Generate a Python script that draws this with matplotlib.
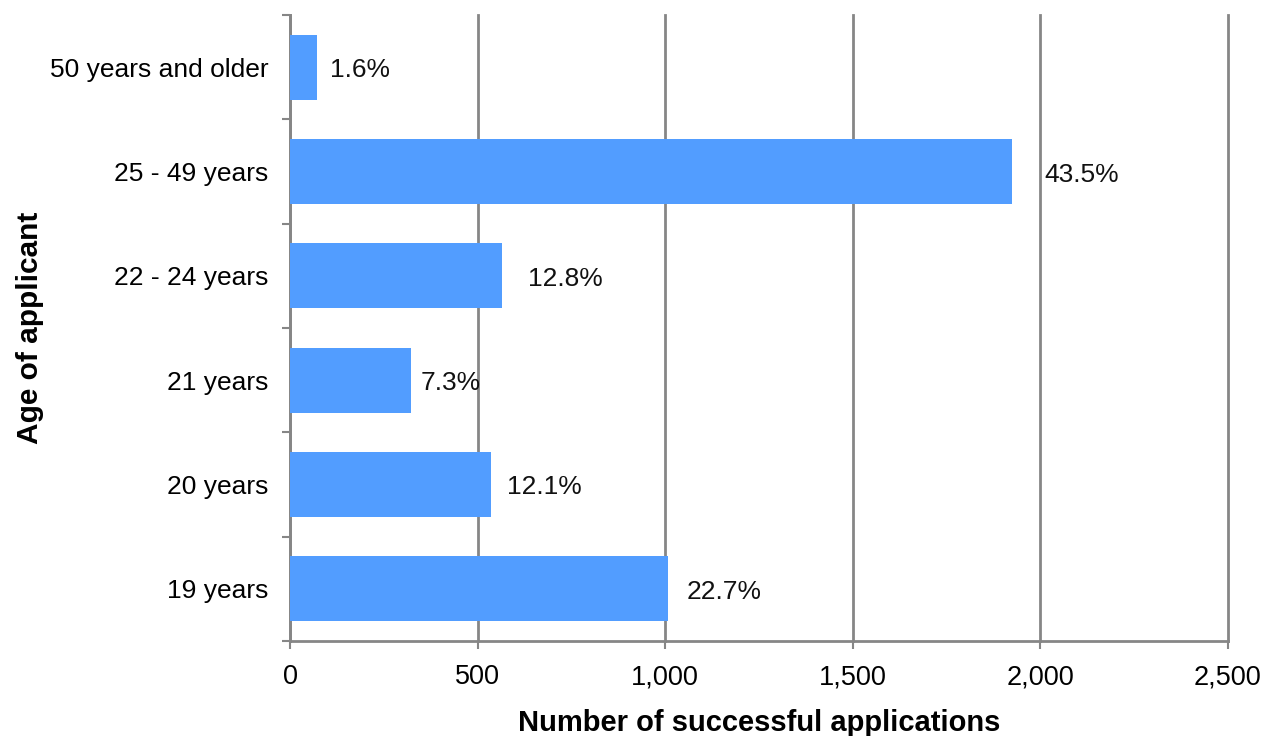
import numpy as np
import matplotlib.pyplot as plt
from matplotlib.ticker import FuncFormatter, MultipleLocator

plt.rcParams['font.family'] = ['Liberation Sans', 'DejaVu Sans']

age_groups = ["19 years", "20 years", "21 years", "22 - 24 years",
              "25 - 49 years", "50 years and older"]
applications = [1007, 535, 323, 566, 1925, 71]
shares = ["22.7%", "12.1%", "7.3%", "12.8%", "43.5%", "1.6%"]
# label gaps from bar end, in pixels (they are not uniform in the source)
label_gaps = [19, 16, 9, 26, 32, 13]

bar_color = "#529dff"
grid_color = "#868686"

fig = plt.figure(figsize=(12.63, 7.36), dpi=100)
ax = fig.add_axes([290 / 1263, 1 - 641 / 736, 937.5 / 1263, 626 / 736])

y = np.arange(len(age_groups))
ax.barh(y, applications, height=0.62, color=bar_color, zorder=3)

for yi, val, txt, gap in zip(y, applications, shares, label_gaps):
    ax.annotate(txt, (val, yi), xytext=(gap, -3), textcoords="offset pixels",
                ha="left", va="center", fontsize=19, color="#111111", zorder=4)

ax.set_xlim(0, 2500)
ax.set_ylim(-0.5, len(age_groups) - 0.5)
ax.xaxis.set_major_locator(MultipleLocator(500))
ax.xaxis.set_major_formatter(FuncFormatter(lambda v, p: f"{v:,.0f}"))

ax.set_yticks(y)
ax.set_yticklabels(age_groups)
ax.set_yticks(np.arange(-0.5, len(age_groups)), minor=True)
ax.tick_params(axis="y", which="major", length=0, pad=15.5, labelsize=19)
ax.tick_params(axis="y", which="minor", length=5.8, width=1.5, color=grid_color)
ax.tick_params(axis="x", which="major", length=5.8, width=1.5, color=grid_color,
               pad=11, labelsize=19.5)

ax.grid(axis="x", color=grid_color, linewidth=2, zorder=0)
for gl in ax.get_xgridlines():
    gl.set_clip_on(False)
for side in ["top", "right"]:
    ax.spines[side].set_visible(False)
for side in ["left", "bottom"]:
    ax.spines[side].set_color(grid_color)
    ax.spines[side].set_linewidth(2)

ax.set_xlabel("Number of successful applications", fontsize=21,
              fontweight="bold", labelpad=13.5)
ax.set_ylabel("Age of applicant", fontsize=21.5, fontweight="bold", labelpad=4)

fig.savefig("out.png", dpi=100)
plt.close(fig)
